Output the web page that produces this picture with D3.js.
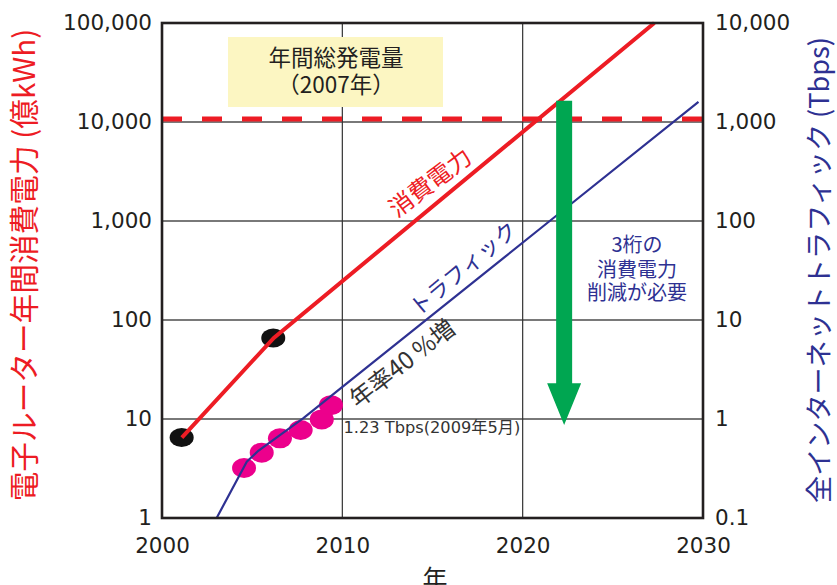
<!DOCTYPE html>
<html><head><meta charset="utf-8">
<script src="https://cdn.jsdelivr.net/npm/d3@7"></script>
<style>
html,body{margin:0;padding:0;background:#fff;}
svg{display:block;}
</style></head>
<body>
<svg id="c" width="837" height="585"></svg>
<script>
// ---- data ----
const xTicks = [2000, 2010, 2020, 2030];
const leftTicks = [1, 10, 100, 1000, 10000, 100000];
const rightTicks = [0.1, 1, 10, 100, 1000, 10000];

const powerYears = [2001.1, 2006.2, 2027.3];
const powerValues = [6.5, 66, 100000];          // 億kWh
const powerDotYears = [2001.09, 2006.17];
const powerDotValues = [6.5, 65.8];

const trafficYears = [2003.03, 2004.7, 2005.3, 2006.54, 2007.84, 2021.5, 2029.75];
const trafficValues = [0.1, 0.37, 0.47, 0.689, 1.02, 100, 1600];  // Tbps
const trafficDotYears = [2004.55, 2005.53, 2006.54, 2007.69, 2008.86, 2009.37];
const trafficDotValues = [0.32, 0.457, 0.638, 0.774, 0.99, 1.38];

const totalGeneration2007 = 10700;  // 億kWh
const arrowYear = 2022.3;
const arrowTop = 16400;
const arrowHeadBase = 23;
const arrowTip = 8.7;

// ---- layout ----
const L = 162, R = 703, T = 23, B = 518;
const svg = d3.select("#c");
const x = d3.scaleLinear().domain([2000, 2030]).range([L, R]);
const yL = d3.scaleLog().domain([1, 100000]).range([B, T]);
const yR = d3.scaleLog().domain([0.1, 10000]).range([B, T]);

const RED = "#ed1c24", BLUE = "#2e3192", PINK = "#ec008c", GREEN = "#00a651", INK = "#231f20";
const numFont = "'DejaVu Sans', 'Noto Sans CJK JP', sans-serif";
const jpFont = "'Noto Sans CJK JP', 'Noto Sans', sans-serif";

// grid
const g = svg.append("g");
g.selectAll("line.h").data(leftTicks.filter(d => d > 1 && d < 100000)).join("line")
  .attr("x1", L).attr("x2", R).attr("y1", d => yL(d)).attr("y2", d => yL(d))
  .attr("stroke", "#4d4d4d").attr("stroke-width", 1.4);
g.selectAll("line.v").data(xTicks.filter(d => d > 2000 && d < 2030)).join("line")
  .attr("y1", T).attr("y2", B).attr("x1", d => x(d)).attr("x2", d => x(d))
  .attr("stroke", "#333").attr("stroke-width", 1.2);

// yellow note box
svg.append("rect").attr("x", 228).attr("y", 37).attr("width", 215).attr("height", 70).attr("fill", "#fcf6c2");
svg.append("text").attr("x", 336).attr("y", 66).attr("text-anchor", "middle")
  .attr("font-family", jpFont).attr("font-size", 22.5).attr("fill", INK).text("年間総発電量");
svg.append("text").attr("x", 336).attr("y", 93).attr("text-anchor", "middle")
  .attr("font-family", jpFont).attr("font-size", 22.5).attr("fill", INK).text("（2007年）");

// dashed total generation line
svg.append("line").attr("x1", L).attr("x2", R)
  .attr("y1", yL(totalGeneration2007)).attr("y2", yL(totalGeneration2007))
  .attr("stroke", RED).attr("stroke-width", 5).attr("stroke-dasharray", "20 20");

// black dots + red line
const powerPts = powerYears.map((d, i) => [d, powerValues[i]]);
svg.selectAll("ellipse.b").data(powerDotYears.map((d, i) => [d, powerDotValues[i]])).join("ellipse")
  .attr("cx", d => x(d[0])).attr("cy", d => yL(d[1])).attr("rx", 12).attr("ry", 9.5).attr("fill", "#111");
svg.append("path").datum(powerPts)
  .attr("d", d3.line().x(d => x(d[0])).y(d => yL(d[1])))
  .attr("fill", "none").attr("stroke", RED).attr("stroke-width", 4);

// pink dots + blue line
svg.selectAll("ellipse.p").data(trafficDotYears.map((d, i) => [d, trafficDotValues[i]])).join("ellipse")
  .attr("cx", d => x(d[0])).attr("cy", d => yR(d[1])).attr("rx", 12).attr("ry", 10).attr("fill", PINK);
const trafficPts = trafficYears.map((d, i) => [d, trafficValues[i]]);
svg.append("path").datum(trafficPts)
  .attr("d", d3.line().x(d => x(d[0])).y(d => yR(d[1])))
  .attr("fill", "none").attr("stroke", BLUE).attr("stroke-width", 2.2).attr("stroke-linejoin", "round");

// green arrow
const ax = x(arrowYear), sw = 8, hw = 17;
svg.append("path")
  .attr("d", `M${ax - sw},${yL(arrowTop)} L${ax + sw},${yL(arrowTop)} L${ax + sw},${yL(arrowHeadBase)} L${ax + hw},${yL(arrowHeadBase)} L${ax},${yL(arrowTip)} L${ax - hw},${yL(arrowHeadBase)} L${ax - sw},${yL(arrowHeadBase)} Z`)
  .attr("fill", GREEN);

// frame
svg.append("rect").attr("x", L).attr("y", T).attr("width", R - L).attr("height", B - T)
  .attr("fill", "none").attr("stroke", INK).attr("stroke-width", 2.6);

// axes
const fmt = d3.format(",");
const axL = svg.append("g").attr("transform", `translate(${L},0)`)
  .call(d3.axisLeft(yL).tickValues(leftTicks).tickFormat(fmt).tickSize(0).tickPadding(10));
const axR = svg.append("g").attr("transform", `translate(${R},0)`)
  .call(d3.axisRight(yR).tickValues(rightTicks).tickFormat(d => d < 1 ? "0.1" : fmt(d)).tickSize(0).tickPadding(12));
const axB = svg.append("g").attr("transform", `translate(0,${B})`)
  .call(d3.axisBottom(x).tickValues(xTicks).tickFormat(d3.format("d")).tickSize(0).tickPadding(20));
[axL, axR, axB].forEach(a => {
  a.select(".domain").remove();
  a.selectAll("text").attr("font-family", numFont).attr("font-size", 21.5).attr("fill", INK);
});

// axis titles
function fitText(sel, target) {
  const len = sel.node().getComputedTextLength();
  const fs = parseFloat(sel.attr("font-size"));
  sel.attr("font-size", fs * target / len);
}
const tl = svg.append("text").attr("transform", "translate(22,265) rotate(-90)")
  .attr("text-anchor", "middle").attr("dominant-baseline", "central")
  .attr("font-family", jpFont).attr("font-size", 27).attr("fill", RED)
  .text("電子ルーター年間消費電力 (億kWh)");
fitText(tl, 473);
const tr = svg.append("text").attr("transform", "translate(817,270) rotate(-90)")
  .attr("text-anchor", "middle").attr("dominant-baseline", "central")
  .attr("font-family", jpFont).attr("font-size", 26).attr("fill", BLUE)
  .text("全インターネットトラフィック (Tbps)");
fitText(tr, 466);
svg.append("text").attr("x", 435).attr("y", 588).attr("text-anchor", "middle")
  .attr("font-family", jpFont).attr("font-size", 25).attr("fill", INK).text("年");

// annotations
function rot(txt, cx, cy, ang, size, color) {
  svg.append("text").attr("transform", `translate(${cx},${cy}) rotate(${ang})`)
    .attr("text-anchor", "middle").attr("dominant-baseline", "central")
    .attr("font-family", jpFont).attr("font-size", size).attr("fill", color).text(txt);
}
rot("消費電力", 429, 181, -37, 24, RED);
rot("トラフィック", 462, 267, -40, 22, BLUE);
rot("年率40 %増", 401, 362, -38, 24, "#333");
const lbl = svg.append("text").attr("x", 343.5).attr("y", 433).attr("font-family", numFont)
  .attr("font-size", 15.5).attr("fill", "#333").text("1.23 Tbps(2009年5月)");
fitText(lbl, 177);
["3桁の", "消費電力", "削減が必要"].forEach((t, i) => {
  svg.append("text").attr("x", 637).attr("y", [252, 277, 300][i]).attr("text-anchor", "middle")
    .attr("font-family", jpFont).attr("font-size", 20)
    .attr("fill", BLUE).text(t);
});
</script>
</body></html>
